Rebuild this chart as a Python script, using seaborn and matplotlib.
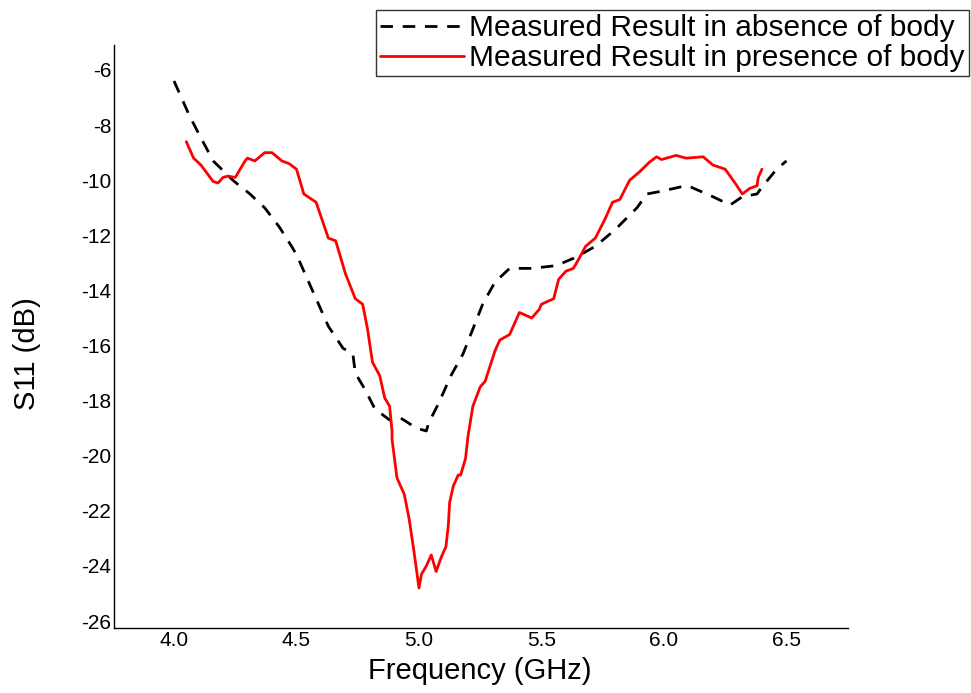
import os

os.environ.setdefault("MPLCONFIGDIR", "/tmp")

import matplotlib
matplotlib.use("Agg")
import matplotlib.pyplot as plt
import pandas as pd
import seaborn as sns

# measured S11 without body (dashed black)
freq_absence = [4.00, 4.06, 4.10, 4.16, 4.24, 4.31, 4.37, 4.43, 4.48, 4.50, 4.54, 4.59,
                4.63, 4.69, 4.73, 4.74, 4.78, 4.82, 4.88, 4.92, 4.99, 5.03, 5.04, 5.08,
                5.13, 5.18, 5.22, 5.26, 5.31, 5.37, 5.46, 5.56, 5.64, 5.72, 5.80, 5.89,
                5.93, 5.99, 6.09, 6.11, 6.20, 6.27, 6.32, 6.38, 6.40, 6.46, 6.50]
s11_absence = [-6.4, -7.6, -8.3, -9.3, -10.0, -10.5, -11.0, -11.7, -12.4, -12.7, -13.5, -14.5,
               -15.3, -16.1, -16.3, -17.0, -17.6, -18.3, -18.7, -18.6, -19.0, -19.1, -18.8, -18.1,
               -17.1, -16.3, -15.4, -14.5, -13.7, -13.2, -13.2, -13.1, -12.8, -12.4, -11.8, -11.0,
               -10.5, -10.4, -10.2, -10.25, -10.6, -10.9, -10.6, -10.5, -10.25, -9.6, -9.3]

# measured S11 with body (solid red)
freq_presence = [4.05, 4.08, 4.11, 4.16, 4.18, 4.20, 4.22, 4.25, 4.29, 4.30, 4.33, 4.37,
                 4.40, 4.44, 4.47, 4.50, 4.53, 4.58, 4.63, 4.66, 4.67, 4.70, 4.74, 4.77,
                 4.79, 4.81, 4.84, 4.86, 4.88, 4.89, 4.89, 4.91, 4.94, 4.96, 4.98, 5.00,
                 5.01, 5.03, 5.05, 5.07, 5.09, 5.11, 5.12, 5.125, 5.14, 5.16, 5.17, 5.19,
                 5.20, 5.22, 5.25, 5.27, 5.31, 5.33, 5.37, 5.41, 5.46, 5.49, 5.50, 5.55,
                 5.57, 5.60, 5.63, 5.65, 5.68, 5.72, 5.76, 5.79, 5.82, 5.86, 5.90, 5.94,
                 5.97, 5.99, 6.05, 6.09, 6.16, 6.20, 6.25, 6.29, 6.32, 6.35, 6.38, 6.385,
                 6.40]
s11_presence = [-8.6, -9.2, -9.45, -10.05, -10.1, -9.9, -9.85, -9.9, -9.3, -9.2, -9.3, -9.0,
                -9.0, -9.3, -9.4, -9.6, -10.5, -10.8, -12.1, -12.2, -12.5, -13.4, -14.3, -14.5,
                -15.4, -16.6, -17.1, -17.9, -18.2, -19.1, -19.4, -20.8, -21.4, -22.3, -23.5, -24.8,
                -24.3, -24.0, -23.6, -24.2, -23.7, -23.3, -22.5, -21.7, -21.1, -20.7, -20.7, -20.1,
                -19.3, -18.2, -17.5, -17.3, -16.2, -15.8, -15.6, -14.8, -15.0, -14.7, -14.5, -14.3,
                -13.6, -13.3, -13.2, -12.9, -12.4, -12.1, -11.4, -10.8, -10.7, -10.0, -9.7, -9.35,
                -9.15, -9.25, -9.1, -9.2, -9.15, -9.45, -9.6, -10.1, -10.5, -10.3, -10.2, -9.9,
                -9.6]

x_ticks = [4.0, 4.5, 5.0, 5.5, 6.0, 6.5]
y_ticks = [-26, -24, -22, -20, -18, -16, -14, -12, -10, -8, -6]

label_absence = "Measured Result in absence of body"
label_presence = "Measured Result in presence of body"

sns.set_style("white")
plt.rcParams["font.family"] = ["Liberation Sans", "DejaVu Sans"]
plt.rcParams["axes.unicode_minus"] = False
for key in ["text.color", "axes.labelcolor", "xtick.color", "ytick.color"]:
    plt.rcParams[key] = "black"

df_abs = pd.DataFrame({"freq": freq_absence, "s11": s11_absence})
df_pre = pd.DataFrame({"freq": freq_presence, "s11": s11_presence})

fig = plt.figure(figsize=(9.71, 6.93), dpi=100)
ax = fig.add_axes([0.1174, 0.0938, 0.7556, 0.841])

sns.lineplot(data=df_abs, x="freq", y="s11", ax=ax, color="black", lw=2.0,
             label=label_absence, sort=False, estimator=None)
ax.lines[-1].set_dashes((4.5, 3.5))
sns.lineplot(data=df_pre, x="freq", y="s11", ax=ax, color="red", lw=2.0,
             label=label_presence, sort=False, estimator=None)

ax.set_xlim(3.755, 6.75)
ax.set_ylim(-26.25, -5.1)
ax.set_xticks(x_ticks)
ax.set_xticklabels([f"{v:.1f}" for v in x_ticks])
ax.set_yticks(y_ticks)
ax.tick_params(axis="both", length=0, labelsize=15, pad=2)
ax.set_xlabel("Frequency (GHz)", fontsize=21)
ax.set_ylabel("S11 (dB)", fontsize=21)
ax.xaxis.set_label_coords(0.499, -0.05)
ax.yaxis.set_label_coords(-0.1, 0.47)

for side in ["top", "right"]:
    ax.spines[side].set_visible(False)
for side in ["left", "bottom"]:
    ax.spines[side].set_color("black")
    ax.spines[side].set_linewidth(1.0)

leg = ax.legend(loc="upper left", bbox_to_anchor=(376 / 971, 1 - 10 / 693),
                bbox_transform=fig.transFigure, fontsize=21.5, frameon=True,
                fancybox=False, handlelength=2.8, handletextpad=0.15,
                borderpad=0.15, labelspacing=0.05, borderaxespad=0)
leg.get_frame().set_edgecolor("black")
leg.get_frame().set_linewidth(1.0)

fig.savefig("out.png", dpi=100)
